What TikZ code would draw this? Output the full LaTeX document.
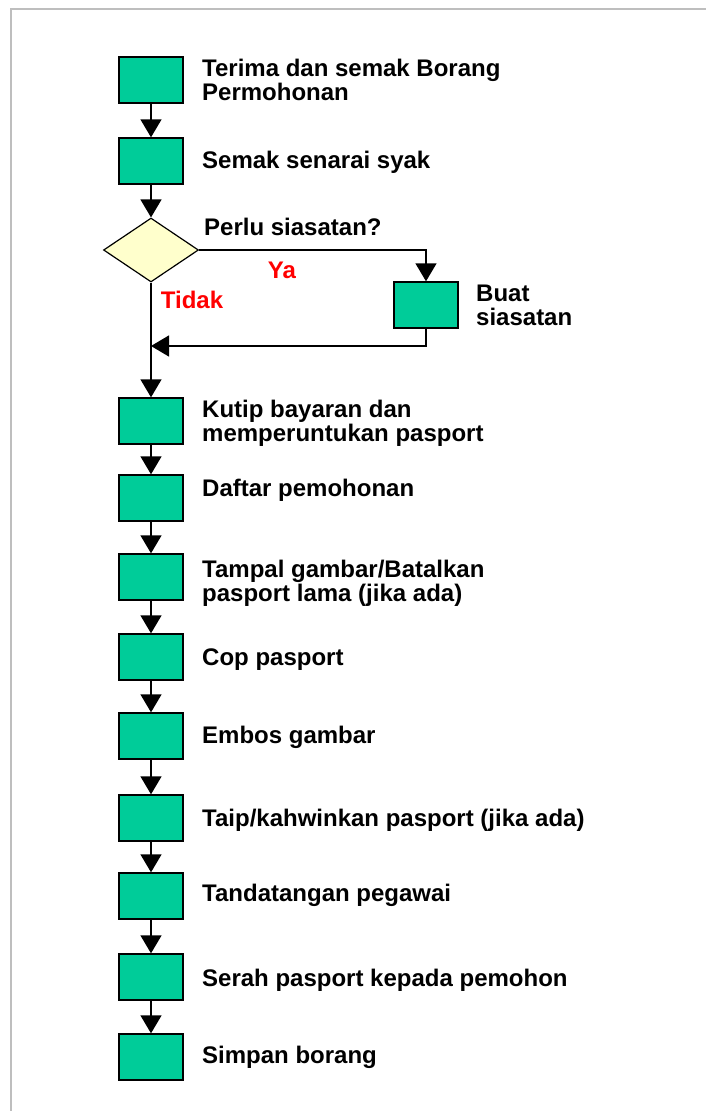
\documentclass[tikz,border=0pt]{standalone}
\usepackage{fontspec}
\setmainfont{Liberation Sans}
\usetikzlibrary{shapes.geometric,arrows.meta}
\definecolor{boxgreen}{RGB}{0,204,153}
\definecolor{dmyellow}{RGB}{255,255,204}
\definecolor{framegray}{RGB}{190,190,190}
\definecolor{lblred}{RGB}{255,0,0}
\tikzset{
  stepbox/.style={draw=black, line width=1.4pt, fill=boxgreen, minimum width=64pt, minimum height=46pt, inner sep=0pt},
  decision/.style={draw=black, line width=1.2pt, fill=dmyellow, shape=diamond, minimum width=95pt, minimum height=64pt, inner sep=0pt, aspect=1.48},
  lbl/.style={anchor=west, inner sep=0pt, font=\fontsize{24}{24}\selectfont\bfseries, align=left},
  redlbl/.style={inner sep=0pt, font=\fontsize{24}{24}\selectfont\bfseries, text=lblred},
  arr/.style={line width=1.4pt, -{Triangle[length=18pt,width=21pt]}},
}
\begin{document}
\begin{tikzpicture}[x=1pt,y=-1pt]
\useasboundingbox (0,0) rectangle (706,1111);
\fill[white] (0,0) rectangle (706,1111);
\draw[framegray, line width=2.2pt] (11,1111) -- (11,9) -- (706,9);

% main column boxes
\node[stepbox] (b1) at (151,80) {};
\node[stepbox] (b2) at (151,161) {};
\node[decision] (d) at (151,250) {};
\node[stepbox] (bs) at (426,305) {};
\coordinate (j) at (151,346);
\node[stepbox] (b3) at (151,421) {};
\node[stepbox] (b4) at (151,498) {};
\node[stepbox] (b5) at (151,577) {};
\node[stepbox] (b6) at (151,657) {};
\node[stepbox] (b7) at (151,736) {};
\node[stepbox] (b8) at (151,818) {};
\node[stepbox] (b9) at (151,896) {};
\node[stepbox] (b10) at (151,977) {};
\node[stepbox] (b11) at (151,1057) {};

% labels
\node[lbl] (t1) at (202,80) {Terima dan semak Borang\\Permohonan};
\node[lbl] (t2) at (202,162) {Semak senarai syak};
\node[lbl] (td) at (204,227) {Perlu siasatan?};
\node[redlbl] (ya) at (282,270) {Ya};
\node[redlbl] (tidak) at (192,300) {Tidak};
\node[lbl] (ts) at (476,305) {Buat\\siasatan};
\node[lbl] (t3) at (202,423) {Kutip bayaran dan\\memperuntukan pasport};
\node[lbl] (t4) at (202,490) {Daftar pemohonan};
\node[lbl] (t5) at (202,583) {Tampal gambar/Batalkan\\pasport lama (jika ada)};
\node[lbl] (t6) at (202,660) {Cop pasport};
\node[lbl] (t7) at (202,737) {Embos gambar};
\node[lbl] (t8) at (202,820) {Taip/kahwinkan pasport (jika ada)};
\node[lbl] (t9) at (202,895) {Tandatangan pegawai};
\node[lbl] (t10) at (202,980) {Serah pasport kepada pemohon};
\node[lbl] (t11) at (202,1057) {Simpan borang};

% connectors
\draw[arr] (b1.south) -- (b2.north);
\draw[arr] (b2.south) -- (d.north);
\draw[arr] (d.east) -| (bs.north);
\draw[arr] (bs.south) |- (j);
\draw[arr] (d.south) -- (b3.north);
\draw[arr] (b3.south) -- (b4.north);
\draw[arr] (b4.south) -- (b5.north);
\draw[arr] (b5.south) -- (b6.north);
\draw[arr] (b6.south) -- (b7.north);
\draw[arr] (b7.south) -- (b8.north);
\draw[arr] (b8.south) -- (b9.north);
\draw[arr] (b9.south) -- (b10.north);
\draw[arr] (b10.south) -- (b11.north);
\end{tikzpicture}
\end{document}
